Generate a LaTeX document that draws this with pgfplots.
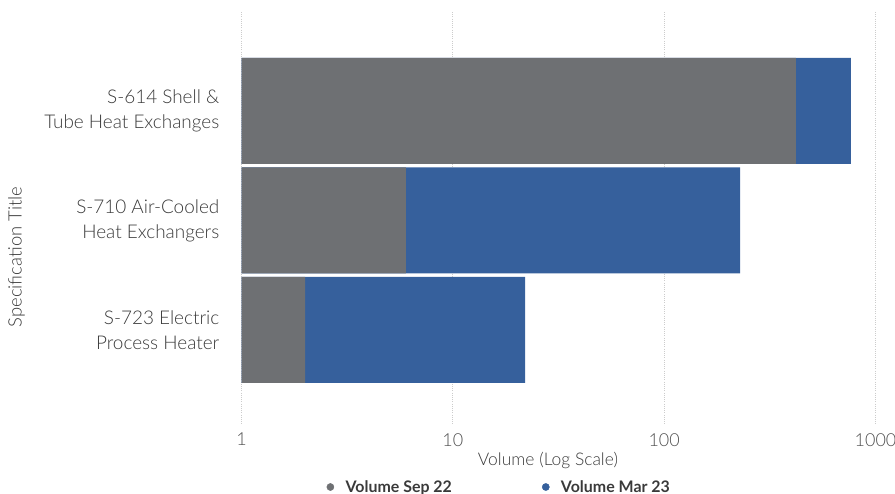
\documentclass[border=0pt]{standalone}
\usepackage{pgfplots}
\pgfplotsset{compat=1.18}
\usepackage{pgfplotstable}
\usepackage{fontspec}
\setmainfont{Lato}[UprightFont=* Light, BoldFont=* Bold]

\definecolor{sepcol}{HTML}{6E7073}
\definecolor{marcol}{HTML}{36609C}
\definecolor{gridcol}{HTML}{CCCCCC}
\definecolor{labcol}{HTML}{3A3A3A}
\definecolor{tickcol}{HTML}{505050}

% volumes per specification: Sep 22 and the additional Mar 23 volume
\pgfplotstableread{
idx sep mar
0   420 345
1   6   223
2   2   20
}\volumes

\begin{document}
\begin{tikzpicture}[x=1bp,y=1bp]
\begin{axis}[
  at={(241.5bp,-425bp)}, anchor=south west,
  scale only axis, width=634bp, height=413bp,
  xmode=log, log basis x=10, xmin=1, xmax=1000,
  log origin=infty,
  xtick={1,10,100,1000}, xticklabels={1,10,100,1000},
  ymin=-0.904, ymax=2.868, y dir=reverse,
  ytick={0,1,2},
  yticklabels={{S-614 Shell \&\\Tube Heat Exchanges},{S-710 Air-Cooled\\Heat Exchangers},{S-723 Electric\\Process Heater}},
  axis line style={draw=none}, major tick length=0pt,
  xmajorgrids, ymajorgrids=false,
  major grid style={gridcol, line width=0.9bp, dash pattern=on 1bp off 1.2bp},
  xticklabel style={font=\fontsize{18}{20}\selectfont, text=tickcol, inner sep=0pt, anchor=north, yshift=-8bp},
  yticklabel style={font=\fontsize{19}{25}\selectfont, text=labcol, align=right, inner sep=0pt, anchor=east, xshift=-22bp},
  /pgf/number format/assume math mode=true,
  xlabel={Volume (Log Scale)},
  xlabel style={font=\fontsize{17.5}{19}\selectfont, text=labcol, at={(axis description cs:0.4834,-0.0847)}, anchor=center},
  ylabel={Specification Title},
  ylabel style={font=\fontsize{18.5}{20}\selectfont, text=labcol, at={(axis description cs:-0.3549,0.4068)}, anchor=center},
  xbar, bar width=0.968, bar shift=0pt,
  legend style={at={(axis description cs:0.1339,-0.1501)}, anchor=west, draw=none, fill=none,
    legend columns=2, font=\fontsize{16}{18}\selectfont\bfseries, text=labcol,
    nodes={inner sep=0pt}, column sep=0pt, inner sep=0pt},
  legend cell align=left,
]
% total length of each bar: Sep 22 plus Mar 23
\addplot[fill=marcol, draw=none, forget plot] table[y=idx, x expr=\thisrow{sep}+\thisrow{mar}] {\volumes};
\addplot[fill=sepcol, draw=none, forget plot] table[y=idx, x=sep] {\volumes};
\addlegendimage{legend image code/.code={\fill[sepcol] (3.6bp,0bp) circle (3.6bp); \path (0bp,0bp) (18.6bp,0bp);}}
\addlegendentry{\makebox[196.4bp][l]{Volume Sep 22}}
\addlegendimage{legend image code/.code={\fill[marcol] (3.6bp,0bp) circle (3.6bp); \path (0bp,0bp) (18.6bp,0bp);}}
\addlegendentry{Volume Mar 23}
\end{axis}
\pgfresetboundingbox
\useasboundingbox (0,0) rectangle (895bp,-494bp);
\end{tikzpicture}
\end{document}
